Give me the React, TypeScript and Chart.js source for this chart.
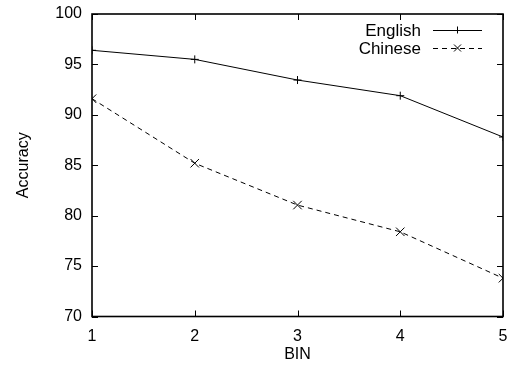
import React, { useEffect, useRef } from "react";
import { Chart, registerables } from "chart.js";

Chart.register(...registerables);

const bins = [1, 2, 3, 4, 5];
const english = [96.4, 95.5, 93.45, 91.9, 87.8];
const chinese = [91.6, 85.2, 81.05, 78.4, 73.8];
const seriesNames = ["English", "Chinese"];
const xTitle = "BIN";
const yTitle = "Accuracy";

const FONT = "'Liberation Sans', Arial, sans-serif";
const FS = 16;

const boxPlugin = {
  id: "gnuBox",
  afterDatasetsDraw(chart: any) {
    const { ctx, chartArea: a, scales } = chart;
    const xs = scales.x;
    const ys = scales.y;
    ctx.save();
    ctx.strokeStyle = "#000";
    ctx.lineWidth = 1;
    const tl = 6;
    ctx.beginPath();
    xs.ticks.forEach((t: any) => {
      const px = Math.round(xs.getPixelForValue(t.value)) + 0.5;
      ctx.moveTo(px, a.bottom);
      ctx.lineTo(px, a.bottom - tl);
      ctx.moveTo(px, a.top);
      ctx.lineTo(px, a.top + tl);
    });
    ys.ticks.forEach((t: any) => {
      const py = Math.round(ys.getPixelForValue(t.value)) + 0.5;
      ctx.moveTo(a.left, py);
      ctx.lineTo(a.left + tl, py);
      ctx.moveTo(a.right, py);
      ctx.lineTo(a.right - tl, py);
    });
    ctx.stroke();
    ctx.lineWidth = 1.6;
    ctx.strokeRect(a.left, a.top, a.right - a.left, a.bottom - a.top);

    // legend
    ctx.font = `17px ${FONT}`;
    ctx.fillStyle = "#000";
    ctx.textAlign = "right";
    ctx.textBaseline = "middle";
    chart.data.datasets.forEach((ds: any, i: number) => {
      const y = a.top + 16 + i * 18;
      ctx.fillText(ds.label, a.right - 82, y + 1);
      ctx.lineWidth = 1;
      ctx.setLineDash(ds.borderDash || []);
      ctx.beginPath();
      ctx.moveTo(a.right - 70, y + 0.5);
      ctx.lineTo(a.right - 21, y + 0.5);
      ctx.stroke();
      ctx.setLineDash([]);
      const cx = a.right - 45.5;
      const r = 3.5;
      ctx.beginPath();
      if (ds.pointStyle === "cross") {
        ctx.moveTo(cx - r, y + 0.5);
        ctx.lineTo(cx + r, y + 0.5);
        ctx.moveTo(cx, y - r);
        ctx.lineTo(cx, y + r);
      } else {
        ctx.moveTo(cx - r, y - r);
        ctx.lineTo(cx + r, y + r);
        ctx.moveTo(cx - r, y + r);
        ctx.lineTo(cx + r, y - r);
      }
      ctx.stroke();
    });
    ctx.restore();
  },
};

export default function App() {
  const ref = useRef<HTMLCanvasElement>(null);
  useEffect(() => {
    if (!ref.current) return;
    const chart = new Chart(ref.current, {
      type: "line",
      data: {
        datasets: [
          {
            label: seriesNames[0],
            data: bins.map((b, i) => ({ x: b, y: english[i] })),
            borderColor: "#000",
            borderWidth: 1,
            pointStyle: "cross",
            pointRadius: 4,
            pointBorderWidth: 1,
            pointBorderColor: "#000",
            fill: false,
            tension: 0,
          },
          {
            label: seriesNames[1],
            data: bins.map((b, i) => ({ x: b, y: chinese[i] })),
            borderColor: "#000",
            borderWidth: 1,
            borderDash: [5, 4],
            pointStyle: "crossRot",
            pointRadius: 6,
            pointBorderWidth: 1,
            pointBorderColor: "#000",
            fill: false,
            tension: 0,
          },
        ],
      },
      options: {
        animation: false,
        responsive: false,
        events: [],
        layout: { padding: { left: 0, right: 7, top: 14, bottom: 0 } },
        plugins: { legend: { display: false }, tooltip: { enabled: false } },
        scales: {
          x: {
            type: "linear",
            min: 1,
            max: 5,
            ticks: { stepSize: 1, color: "#000", font: { family: FONT, size: FS }, padding: 10 },
            grid: { display: false, drawTicks: false },
            border: { display: false },
            title: {
              display: true,
              text: xTitle,
              color: "#000",
              font: { family: FONT, size: FS },
              padding: { top: 2, bottom: 4 },
            },
            afterFit(scale: any) {
              scale.height = 51.5;
              scale.paddingLeft = 0;
              scale.paddingRight = 0;
            },
          },
          y: {
            min: 70,
            max: 100,
            ticks: { stepSize: 5, color: "#000", font: { family: FONT, size: FS }, padding: 10 },
            grid: { display: false, drawTicks: false },
            border: { display: false },
            title: {
              display: true,
              text: yTitle,
              color: "#000",
              font: { family: FONT, size: FS },
              padding: { top: 14, bottom: 4 },
            },
            afterFit(scale: any) {
              scale.width = 92;
              scale.paddingTop = 0;
              scale.paddingBottom = 0;
            },
          },
        },
      },
      plugins: [boxPlugin],
    });
    return () => chart.destroy();
  }, []);
  return (
    <div style={{ position: "absolute", left: 0, top: 0, width: 510, height: 368, background: "#fff" }}>
      <canvas ref={ref} width={510} height={368} />
    </div>
  );
}
